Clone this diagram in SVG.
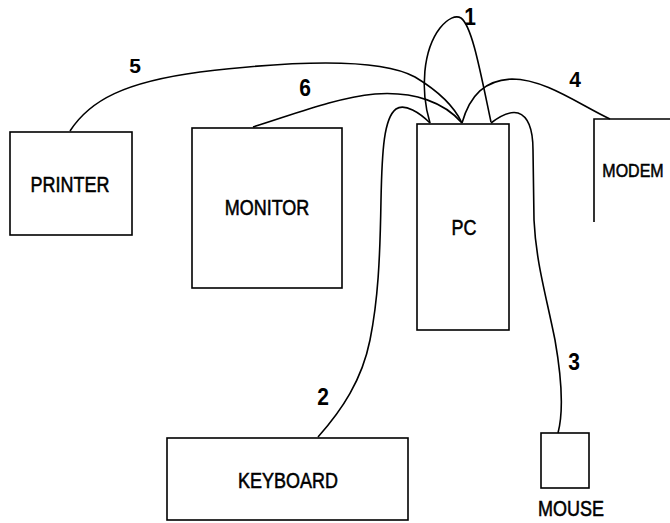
<svg xmlns="http://www.w3.org/2000/svg" width="670" height="523" viewBox="0 0 670 523">
<style>
.box{fill:none;stroke:#000;stroke-width:1.6}
.cable{fill:none;stroke:#000;stroke-width:1.6}
.lbl{font-family:"Liberation Sans",Arial,sans-serif;font-size:18px;fill:#000;stroke:#000;stroke-width:0.45;text-anchor:middle}
.num{font-family:"Liberation Sans",Arial,sans-serif;font-size:21px;font-weight:bold;fill:#000;text-anchor:middle}
</style>
<rect width="670" height="523" fill="#fff"/>
<g id="connectors">
  <path id="c1" class="cable" d="M430,123 C420,90 423,50 440,28 C448,18 456,15 461,18 C472,26 480,70 491,122"/>
  <path id="c4" class="cable" d="M462,123 C470,95 485,80 512,79 C545,79 580,105 610,119"/>
  <path id="c5" class="cable" d="M70,131 C90,100 125,82 200,72 C300,60 380,58 415,77 C440,92 455,108 462,123"/>
  <path id="c6" class="cable" d="M253,127 C295,114 335,98 375,94 C415,91 445,103 462,123"/>
  <path id="c2" class="cable" d="M430,123 C420,113 405,103 396,109 C384,118 382,150 381,200 C380,260 378,300 370,340 C362,380 342,410 318,437"/>
  <path id="c3" class="cable" d="M491,123 C500,116 510,111 518,113 C530,117 533,132 533,150 L534,220 C536,262 546,295 555,340 C562,380 564,410 558,433"/>
  <text class="num" transform="translate(470,25) scale(1,1.1)">1</text>
  <text class="num" transform="translate(323,405) scale(1,1.1)">2</text>
  <text class="num" transform="translate(574,370) scale(1,1.1)">3</text>
  <text class="num" transform="translate(575,87) scale(1,1.05)">4</text>
  <text class="num" transform="translate(135,73) scale(1,1.0)">5</text>
  <text class="num" transform="translate(305,96) scale(1,1.1)">6</text>
</g>
<g id="printer">
  <rect class="box" x="10" y="132" width="122" height="103"/>
  <text class="lbl" transform="translate(70,192) scale(1,1.2)">PRINTER</text>
</g>
<g id="monitor">
  <rect class="box" x="192" y="128" width="150" height="160"/>
  <text class="lbl" transform="translate(267,215) scale(1,1.2)">MONITOR</text>
</g>
<g id="pc">
  <rect class="box" x="417" y="124" width="92" height="206"/>
  <text class="lbl" transform="translate(464,235) scale(1,1.25)">PC</text>
</g>
<g id="modem">
  <path class="box" d="M594,222 L594,119 L672,119"/>
  <text class="lbl" style="font-size:16px" transform="translate(633,177) scale(1,1.2)">MODEM</text>
</g>
<g id="keyboard">
  <rect class="box" x="167" y="438" width="241" height="82"/>
  <text class="lbl" transform="translate(288,488) scale(1,1.2)">KEYBOARD</text>
</g>
<g id="mouse">
  <rect class="box" x="541" y="433" width="48" height="55"/>
  <text class="lbl" transform="translate(571,516) scale(1,1.2)">MOUSE</text>
</g>
</svg>
